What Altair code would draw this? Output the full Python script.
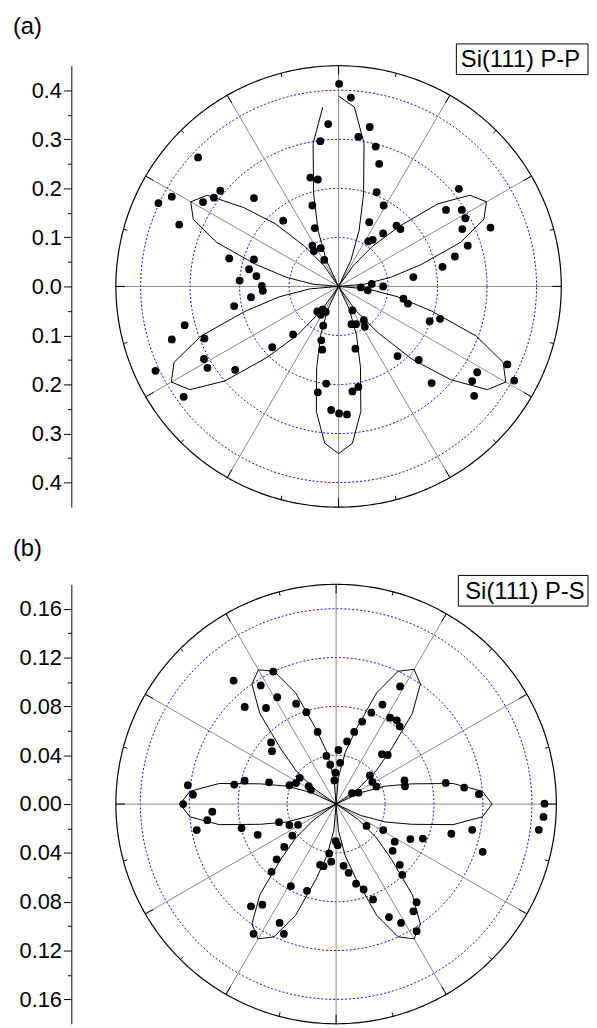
import numpy as np
import pandas as pd
import altair as alt

FONT = "Liberation Sans"

# ---------------- Panel (a): Si(111) P-P ----------------
# measured points (horizontal / vertical components of the polar data)
a_x = [-0.284, -0.364, -0.337, -0.322, -0.274, -0.252, -0.239, -0.171, -0.112, -0.221,
       -0.171, -0.181, -0.166, -0.200, -0.155, -0.153, -0.177, -0.211, -0.311, -0.337,
       -0.271, -0.272, -0.265, -0.370, -0.209, -0.313, -0.134, -0.092, -0.057, -0.042,
       0.077, 0.091, -0.053, 0.062, 0.117, 0.125, 0.090, -0.048, 0.060, 0.069,
       -0.053, -0.036, -0.050, -0.029, 0.210, 0.151, 0.067, 0.045, 0.059, 0.090,
       0.131, 0.140, 0.028, -0.043, -0.032, -0.026, -0.036, -0.031, 0.051, 0.053,
       0.026, 0.035, 0.184, 0.205, -0.035, -0.033, 0.034, 0.119, 0.162, -0.025,
       -0.042, 0.028, 0.040, 0.188, -0.015, 0.001, 0.017, 0.341, 0.280, 0.270,
       0.355, 0.274, 0.001, 0.025, -0.021, 0.063, -0.037, 0.040, 0.075, 0.082,
       0.243, 0.217, 0.249, 0.256, 0.307, 0.250, 0.261, 0.235]
a_y = [0.263, 0.170, 0.183, 0.126, 0.172, 0.181, 0.195, 0.180, 0.134, 0.057,
       0.055, 0.035, 0.021, 0.012, 0.001, -0.009, -0.022, -0.040, -0.079, -0.108,
       -0.106, -0.148, -0.166, -0.172, -0.170, -0.225, -0.124, -0.098, 0.222, 0.218,
       0.192, 0.165, 0.165, 0.131, 0.124, 0.117, 0.108, 0.119, 0.092, 0.095,
       0.083, 0.078, 0.072, 0.054, 0.040, 0.019, 0.005, -0.002, -0.008, 0.000,
       -0.025, -0.035, -0.049, -0.051, -0.047, -0.052, -0.058, -0.080, -0.069, -0.082,
       -0.077, -0.077, -0.071, -0.066, -0.110, -0.129, -0.127, -0.142, -0.150, -0.198,
       -0.216, -0.214, -0.205, -0.197, -0.252, -0.259, -0.261, -0.159, -0.175, -0.193,
       -0.192, -0.223, 0.413, 0.385, 0.331, 0.325, 0.296, 0.305, 0.285, 0.250,
       0.199, 0.156, 0.156, 0.139, 0.120, 0.117, 0.083, 0.061]
# fitted curve: polar angle (degrees) and radius
a_fit_angle = list(range(95, 455, 5))
a_fit_r = [0.367, 0.296, 0.195, 0.121, 0.059, 0.000,
           0.052, 0.107, 0.180, 0.250, 0.324, 0.345, 0.324, 0.262, 0.173, 0.107, 0.052, 0.000,
           0.059, 0.121, 0.195, 0.296, 0.367, 0.390, 0.367, 0.300, 0.205, 0.130, 0.059, 0.000,
           0.051, 0.106, 0.171, 0.259, 0.321, 0.341, 0.321, 0.259, 0.171, 0.106, 0.051, 0.000,
           0.059, 0.121, 0.210, 0.296, 0.367, 0.390, 0.367, 0.296, 0.195, 0.121, 0.059, 0.000,
           0.052, 0.107, 0.173, 0.262, 0.324, 0.345, 0.324, 0.262, 0.173, 0.107, 0.052, 0.000,
           0.059, 0.121, 0.195, 0.296, 0.367, 0.388]
a_rings = [0.1, 0.2, 0.3, 0.4]
a_outer = 0.45
a_ticks = [-0.4, -0.3, -0.2, -0.1, 0.0, 0.1, 0.2, 0.3, 0.4]
a_minor = [-0.35, -0.25, -0.15, -0.05, 0.05, 0.15, 0.25, 0.35]

# ---------------- Panel (b): Si(111) P-S ----------------
b_x = [-0.0838, -0.0514, -0.0616, -0.0481, -0.0747, -0.0573, -0.0327, -0.0243, -0.0151, -0.0532,
       -0.0524, -0.0079, -0.0048, 0.0019, 0.0033, -0.0006, -0.0014, -0.1212, -0.0832, -0.0748,
       -0.0548, -0.0381, -0.0328, -0.0297, -0.0224, -0.0206, -0.1170, -0.1250, -0.1012, -0.1053,
       -0.1139, -0.0773, -0.0641, -0.0467, -0.0382, -0.0311, -0.0358, -0.0424, -0.0486, -0.0528,
       -0.0370, -0.0696, -0.0603, -0.0462, -0.0427, -0.0675, -0.0238, 0.0523, 0.0379, 0.0288,
       0.0441, 0.0496, 0.0519, 0.0213, 0.0148, 0.0090, 0.0375, 0.0422, 0.0276, 0.0296,
       0.0330, 0.0130, 0.0182, 0.0559, 0.0563, 0.0896, 0.1047, 0.1167, 0.1703, 0.1695,
       0.1657, 0.0249, 0.0385, 0.0479, 0.0462, 0.0607, 0.0709, 0.0942, 0.1112, 0.1198,
       -0.0003, 0.0013, -0.0057, -0.0131, -0.0103, -0.0040, 0.0061, 0.0102, 0.0163, 0.0225,
       0.0302, 0.0521, 0.0541, 0.0658, 0.0632, 0.0658, 0.0432, 0.0531]
b_y = [0.1012, 0.1085, 0.0972, 0.0875, 0.0795, 0.0787, 0.0822, 0.0753, 0.0591, 0.0505,
       0.0433, 0.0394, 0.0322, 0.0443, 0.0338, 0.0257, 0.0194, 0.0154, 0.0160, 0.0192,
       0.0178, 0.0154, 0.0172, 0.0214, 0.0146, 0.0117, 0.0077, 0.0000, -0.0062, -0.0132,
       -0.0213, -0.0197, -0.0252, -0.0148, -0.0172, -0.0170, -0.0258, -0.0351, -0.0453, -0.0555,
       -0.0673, -0.0838, -0.0824, -0.0974, -0.1063, -0.1063, -0.0711, 0.0964, 0.0815, 0.0749,
       0.0708, 0.0686, 0.0637, 0.0676, 0.0591, 0.0513, 0.0408, 0.0402, 0.0235, 0.0181,
       0.0143, 0.0089, 0.0093, 0.0194, 0.0146, 0.0173, 0.0135, 0.0081, 0.0003, -0.0105,
       -0.0211, -0.0179, -0.0213, -0.0308, -0.0383, -0.0287, -0.0283, -0.0243, -0.0211, -0.0391,
       -0.0304, -0.0338, -0.0405, -0.0498, -0.0509, -0.0472, -0.0506, -0.0563, -0.0652, -0.0700,
       -0.0781, -0.0498, -0.0580, -0.0804, -0.0879, -0.1041, -0.0926, -0.0974]
b_fit_angle = list(range(0, 365, 5))
b_fit_r = [0.1275, 0.120, 0.097, 0.064, 0.043, 0.022, 0.000, 0.022, 0.043, 0.064, 0.097, 0.120,
           0.1275, 0.120, 0.097, 0.064, 0.043, 0.022, 0.000, 0.022, 0.043, 0.064, 0.097, 0.120,
           0.1270, 0.120, 0.097, 0.064, 0.043, 0.022, 0.000, 0.022, 0.043, 0.064, 0.097, 0.120,
           0.1275, 0.120, 0.097, 0.064, 0.043, 0.022, 0.000, 0.022, 0.043, 0.064, 0.097, 0.120,
           0.1275, 0.120, 0.097, 0.064, 0.043, 0.022, 0.000, 0.022, 0.043, 0.064, 0.097, 0.120,
           0.1275, 0.120, 0.097, 0.064, 0.043, 0.022, 0.000, 0.022, 0.043, 0.064, 0.097, 0.120,
           0.1275]
b_rings = [0.04, 0.08, 0.12, 0.16]
b_outer = 0.18
b_ticks = [-0.16, -0.12, -0.08, -0.04, 0.0, 0.04, 0.08, 0.12, 0.16]
b_minor = [-0.14, -0.10, -0.06, -0.02, 0.02, 0.06, 0.10, 0.14]


def panel(px, py, fit_ang, fit_r, rings, outer, ticks, minor, fmt, w, h,
          label, box_text, box, text_dx, title_offset):
    unit_px = h / (2 * outer)
    dom = [-outer, outer]
    xs = alt.Scale(domain=dom, nice=False, zero=False)
    ys = alt.Scale(domain=dom, nice=False, zero=False)
    X = alt.X("x:Q", scale=xs, axis=None)
    Yn = alt.Y("y:Q", scale=ys, axis=None)
    major_axis = alt.Axis(values=ticks, orient="left", offset=45, tickSize=8,
                          labelExpr=f"format(abs(datum.value), '{fmt}')",
                          labelFont=FONT, labelFontSize=22, labelColor="black",
                          labelPadding=2, domainColor="black", domainWidth=1,
                          tickColor="black", tickWidth=1, grid=False, title=None)
    minor_axis = alt.Axis(values=minor, orient="left", offset=45, tickSize=4,
                          labels=False, domain=False, tickColor="black",
                          tickWidth=1, grid=False, title=None)

    # polar grid geometry
    tt = np.arange(0, 361, 1.0)
    ring_df = pd.DataFrame([{"ring": r, "t": t, "x": r * np.cos(np.radians(t)),
                             "y": r * np.sin(np.radians(t))} for r in rings for t in tt])
    outer_df = pd.DataFrame({"t": tt, "x": outer * np.cos(np.radians(tt)),
                             "y": outer * np.sin(np.radians(tt))})
    sp = np.arange(0, 360, 30)
    spoke_df = pd.DataFrame({"x": 0.0, "y": 0.0,
                             "x2": outer * np.cos(np.radians(sp)),
                             "y2": outer * np.sin(np.radians(sp))})
    Lmaj = 9.0 / unit_px
    Lmin = 4.0 / unit_px
    rows = []
    for t in np.arange(0, 360, 15):
        L = Lmaj if t % 30 == 0 else Lmin
        c, s = np.cos(np.radians(t)), np.sin(np.radians(t))
        rows.append({"x": (outer - L) * c, "y": (outer - L) * s, "x2": outer * c, "y2": outer * s})
    tick_df = pd.DataFrame(rows)

    rings_l = alt.Chart(ring_df).mark_line(color="#0000ff", strokeWidth=1, strokeDash=[2, 2]).encode(
        x=X, y=Yn, detail="ring:N", order="t:Q")
    spokes_l = alt.Chart(spoke_df).mark_rule(color="#888888", strokeWidth=1).encode(
        x=X, y=Yn, x2="x2:Q", y2="y2:Q")
    ticks_l = alt.Chart(tick_df).mark_rule(color="black", strokeWidth=1).encode(
        x=X, y=Yn, x2="x2:Q", y2="y2:Q")
    outer_l = alt.Chart(outer_df).mark_line(color="black", strokeWidth=1.2).encode(
        x=X, y=alt.Y("y:Q", scale=ys, axis=minor_axis), order="t:Q")

    fit_df = pd.DataFrame({"ang": fit_ang, "r": fit_r, "i": list(range(len(fit_r)))})
    fit_l = alt.Chart(fit_df).transform_calculate(
        x="datum.r * cos(datum.ang * PI / 180)",
        y="datum.r * sin(datum.ang * PI / 180)",
    ).mark_line(color="black", strokeWidth=1).encode(x=X, y=Yn, order="i:Q")

    pts_l = alt.Chart(pd.DataFrame({"x": px, "y": py})).mark_circle(
        size=62, color="black", opacity=1).encode(
        x=X, y=alt.Y("y:Q", scale=ys, axis=major_axis))

    # boxed panel label (annotation)
    bx0, by0, bx1, by1 = box
    lab_df = pd.DataFrame({"lab": [box_text]})
    box_l = alt.Chart(lab_df).mark_rect(fill="white", stroke="black", strokeWidth=1).encode(
        x=alt.value(bx0), x2=alt.value(bx1), y=alt.value(by0), y2=alt.value(by1))
    txt_l = alt.Chart(lab_df).mark_text(font=FONT, fontSize=24, color="black",
                                        align="left", baseline="middle").encode(
        x=alt.value(bx0 + text_dx), y=alt.value((by0 + by1) / 2 + 1), text="lab:N")

    return alt.layer(rings_l, spokes_l, ticks_l, outer_l, fit_l, pts_l, box_l, txt_l).resolve_axis(
        y="independent").properties(
        width=w, height=h,
        title=alt.TitleParams(label, anchor="start", frame="group", dx=-104, offset=title_offset,
                              fontSize=24, font=FONT, fontWeight="normal", color="black"))


pa = panel(a_x, a_y, a_fit_angle, a_fit_r, a_rings, a_outer, a_ticks, a_minor, ".1f",
           450, 446, "(a)", "Si(111) P-P", (344, -22, 477, 9), 4.5, 5)
pb = panel(b_x, b_y, b_fit_angle, b_fit_r, b_rings, b_outer, b_ticks, b_minor, ".2f",
           445, 444, "(b)", "Si(111) P-S", (346, -9, 477, 22), 7, 14)

chart = alt.vconcat(pa, pb, spacing=27).configure_view(
    stroke=None).properties(padding={"left": 5, "top": 1, "right": 0, "bottom": 0})

chart.save("out.html", embed_options={"renderer": "svg", "actions": False})
